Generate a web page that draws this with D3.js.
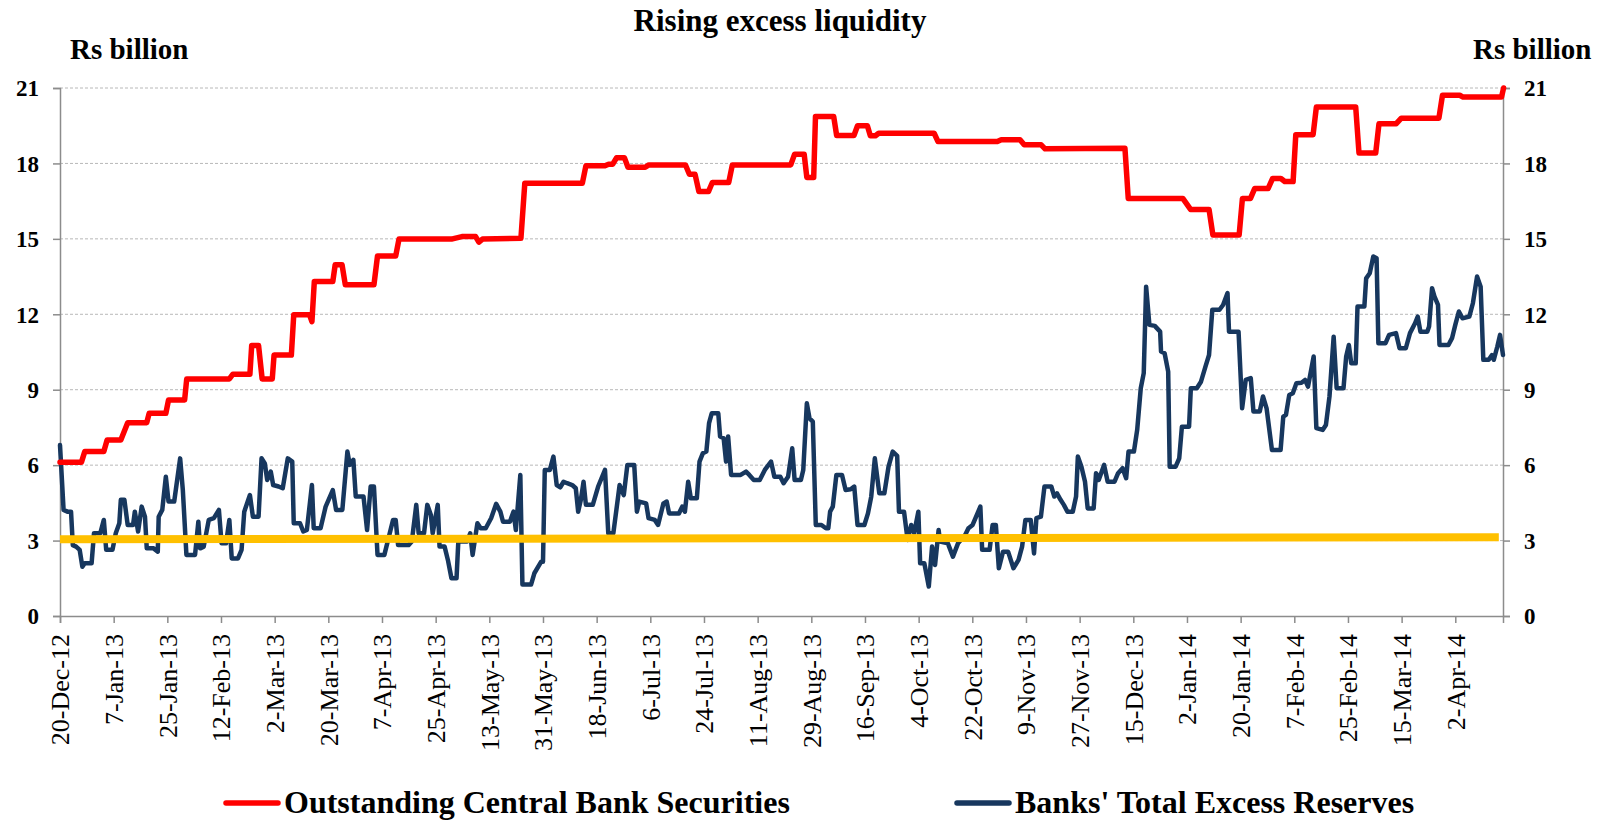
<!DOCTYPE html>
<html>
<head>
<meta charset="utf-8">
<script src="https://cdn.jsdelivr.net/npm/d3@7"></script>
<style>
  html, body { margin: 0; padding: 0; background: #fff; }
  svg { display: block; font-family: "Liberation Serif", "Times New Roman", serif; }
</style>
</head>
<body>
<svg id="chart" width="1599" height="820"></svg>
<script>
// ---------- data ----------
const startDate = "2012-12-20";
const tickLabels = ["20-Dec-12","7-Jan-13","25-Jan-13","12-Feb-13","2-Mar-13","20-Mar-13","7-Apr-13",
  "25-Apr-13","13-May-13","31-May-13","18-Jun-13","6-Jul-13","24-Jul-13","11-Aug-13","29-Aug-13",
  "16-Sep-13","4-Oct-13","22-Oct-13","9-Nov-13","27-Nov-13","15-Dec-13","2-Jan-14","20-Jan-14",
  "7-Feb-14","25-Feb-14","15-Mar-14","2-Apr-14"];
const yTicks = [0, 3, 6, 9, 12, 15, 18, 21];

// Outstanding Central Bank Securities (days since 20-Dec-12, Rs billion)
const secDays = [0,7.2,8.3,14.7,15.8,20.4,22.7,29.1,29.9,35.5,36.4,41.8,42.5,56.8,58,63.7,64.3,66.6,67.8,71.2,
  71.8,77.6,78.4,83.7,84.5,85.3,91.5,92.3,94.6,95.7,105.3,106.5,112.6,113.7,131.3,134.8,139.4,140.5,141.7,154.6,
  155.9,175.2,176.4,182.8,184,185.4,186.7,189.3,190.5,196.3,197.5,209.8,211.1,213,214.3,217.5,218.8,224.3,225.5,245.1,
  246.4,249.6,250.5,252.8,253.4,259.5,260.5,266.3,267.5,270.8,271.8,273.5,274.6,293.2,294.5,314.4,315.7,322,323.4,329.1,
  330.4,357.2,358.3,376.6,379.2,385.4,386.7,395.5,396.6,399.3,400.7,405.2,406.7,409.5,410.8,413.6,414.5,420.3,421.4,434.6,
  435.7,441.3,442.4,448.2,449.9,462.5,463.7,469.5,470.6,483.5,484.2];
const secValues = [6.12,6.12,6.54,6.54,7.0,7.0,7.69,7.69,8.06,8.06,8.59,8.59,9.43,9.43,9.62,9.62,10.76,10.76,9.43,9.43,
  10.38,10.38,11.98,11.98,11.71,13.3,13.3,13.97,13.97,13.17,13.17,14.32,14.32,14.99,14.99,15.09,15.09,14.87,14.99,15.02,
  17.21,17.21,17.91,17.91,17.97,17.97,18.23,18.23,17.85,17.85,17.94,17.94,17.57,17.57,16.88,16.88,17.24,17.24,17.94,17.94,
  18.37,18.37,17.44,17.44,19.87,19.87,19.11,19.11,19.5,19.5,19.1,19.1,19.2,19.2,18.87,18.87,18.94,18.94,18.74,18.74,
  18.58,18.6,16.61,16.61,16.17,16.17,15.15,15.15,16.61,16.61,17.0,17.0,17.4,17.4,17.28,17.28,19.14,19.14,20.24,20.24,
  18.41,18.41,19.58,19.58,19.8,19.8,20.71,20.71,20.64,20.64,21.0];

// Banks' Total Excess Reserves (days since 20-Dec-12, Rs billion)
const resDays = [0,1.2,2.5,3.7,4.3,5.4,6.6,7.5,8.3,10.6,11.4,13.5,14.7,15.5,17.6,18.7,19.9,20.4,21.6,22.7,
  24.5,25.1,26.2,27.4,28.5,29.1,31.4,32.8,33.1,34.3,35.5,36.4,38.3,40.3,41.2,42.4,45.3,46.4,47,48.2,
  49.9,51.6,53.3,54.2,55.7,56.8,57.6,59.7,60.9,61.8,63.7,64.7,66.6,67.6,68.7,69.5,70.7,71.5,73.3,74.7,
  76.4,77.9,78.4,80.5,81.6,82.8,84.5,85.1,87.4,89.1,91.5,92.6,94.7,96.4,97.2,98.4,99.2,101.8,103,104.2,
  105.3,106.5,108.8,111.7,112.6,113.4,116.9,118,119.5,120.3,122.1,123.2,124.4,125,126.7,127.3,129,130.1,131.3,133,
  133.6,136.5,137.6,138.4,140,141.1,142.8,144.6,146.3,147.7,148.6,150.9,152.1,152.9,154.4,155.1,158,159.1,161.4,162,
  162.6,164.3,165.5,166.6,167.8,168.9,170.1,171.8,173,173.8,174.7,175.6,176.4,178.7,180.5,182.8,183.9,185.6,187.7,189.1,
  190.3,192.6,193.5,194.3,196.6,197.4,199.5,200.6,202.4,203.5,204.3,207.6,208.7,209.6,210.7,211.6,213.6,214.5,215.6,216.8,
  217.7,218.6,220.8,221.4,222.6,223.4,224.1,225.1,228.3,230.1,231.2,232.7,234.7,236.4,238.5,239.6,241.6,242.7,244.2,245.6,
  246.4,248.5,249.3,250.5,251.4,252.5,253.5,255.4,256.9,257.7,258.3,259.2,260.4,262.3,263.5,265.2,266.4,267.5,269.8,271,
  272.1,273.3,274.8,276.5,277.9,279.3,280.8,281.4,283.1,284.3,285.5,286.5,287.9,288.5,289.9,291.4,292.5,293.5,294.7,295.2,
  297.8,299.5,301.2,303.6,304.7,306.1,308.7,309.3,311.8,312.8,313.9,314.9,316.3,318,319.8,321.5,322.7,323.8,325.6,326.7,
  327.5,329,330.2,332.5,333.5,334.4,335.6,336.7,337.9,339.7,340.8,341.4,342.6,343.8,344.7,346.7,347.5,348.4,350.2,351.4,
  353.7,354.9,356.4,357.6,358.4,360.2,361.3,362.5,363.5,364.3,365.4,367.2,369,369.3,370.5,371.7,372.2,374.2,375.4,376.3,
  378.7,379.3,381.3,382.7,384.2,385.4,386.5,388.9,390.1,391.6,392.1,395.3,396.5,397.7,399.4,400.3,402.4,403.5,404.7,406.5,
  409.4,410.3,411.2,412.3,413.5,414.7,416.4,417.6,418.6,420.5,421.4,423.5,424.6,425.8,427.2,428.2,430.5,431.4,432.3,433.1,
  434.6,435.2,437.5,438.1,439.3,440.5,441.6,442.2,444.6,445.8,448.1,449.3,451.4,452.8,454.5,455.4,456.3,458.6,459.2,460.2,
  461,462.2,462.7,465.7,466.9,468,469.2,470.4,472.7,473.9,475.3,476.5,477.4,479.2,480.3,480.9,482.1,483,484];
const resValues = [6.8,4.22,4.15,4.15,2.82,2.76,2.63,1.96,2.1,2.1,3.29,3.29,3.82,2.63,2.63,3.29,3.69,4.62,4.62,3.62,
  3.62,4.15,3.36,4.35,3.95,2.69,2.69,2.56,3.95,4.22,5.54,4.55,4.55,6.27,5.01,2.43,2.43,3.75,2.69,2.76,
  3.82,3.89,4.22,2.89,2.89,3.82,2.29,2.29,2.63,4.15,4.81,3.95,3.95,6.27,6.07,5.41,5.74,5.21,5.15,5.08,
  6.27,6.14,3.69,3.69,3.36,3.42,5.21,3.49,3.49,4.35,5.01,4.22,4.22,6.54,6.01,6.21,4.75,4.75,3.42,5.15,
  5.15,2.43,2.43,3.82,3.82,2.82,2.82,2.96,4.42,3.29,3.29,4.42,4.02,3.29,4.42,2.76,2.76,2.23,1.5,1.5,
  2.96,2.96,3.29,2.43,3.69,3.49,3.49,3.89,4.46,4.15,3.75,3.75,4.15,3.42,5.61,1.25,1.25,1.7,2.16,2.16,
  5.81,5.81,6.34,5.21,5.12,5.34,5.28,5.21,5.08,4.15,4.62,5.34,4.42,4.42,5.15,5.81,3.29,3.29,5.21,4.81,
  6.01,6.01,4.15,4.55,4.48,3.89,3.82,3.62,4.48,4.55,4.08,4.08,4.35,4.15,5.34,4.68,4.68,6.14,6.47,6.54,
  7.67,8.06,8.06,7.14,7.07,6.14,7.14,5.61,5.61,5.74,5.61,5.41,5.41,5.81,6.14,5.54,5.54,5.28,5.54,6.67,
  5.41,5.41,5.81,8.46,7.86,7.73,3.62,3.62,3.49,3.49,4.15,4.35,5.61,5.61,5.01,5.04,5.15,3.62,3.62,4.08,
  4.75,6.27,4.88,4.88,5.94,6.54,6.37,4.15,4.15,3.02,3.62,3.3,4.15,2.1,2.1,1.17,2.76,2.03,3.42,2.96,
  2.89,2.36,2.89,3.22,3.49,3.62,4.35,2.63,2.63,3.62,3.62,1.9,2.56,2.56,1.9,2.23,2.76,3.82,3.82,2.49,
  3.89,3.95,5.15,5.15,4.75,4.88,4.62,4.42,4.15,4.15,4.75,6.34,5.94,5.34,4.28,4.28,5.68,5.41,6.01,5.34,
  5.34,5.68,5.88,5.48,6.54,6.54,7.4,9.06,9.66,13.1,11.58,11.54,11.31,10.52,10.45,9.72,5.94,5.94,6.27,7.53,
  7.53,9.06,9.06,9.32,9.92,10.38,12.18,12.18,12.37,12.84,11.31,11.31,8.26,9.39,9.46,8.13,8.13,8.73,8.26,6.6,
  6.6,7.93,8.0,8.79,8.86,9.26,9.28,9.39,9.12,10.32,7.47,7.4,7.6,8.73,11.11,9.06,9.06,10.32,10.78,10.05,
  10.05,12.31,12.31,13.43,13.63,14.3,14.23,10.85,10.85,11.18,11.25,10.65,10.65,11.25,11.64,11.91,11.31,11.31,11.51,13.04,
  12.71,12.37,10.78,10.78,11.05,11.58,12.11,11.84,11.91,12.44,13.5,13.1,10.19,10.19,10.38,10.19,10.72,11.18,10.38];

// Reference level (yellow)
const refDays = [0, 482.6];
const refValues = [3.05, 3.13];

const seriesNames = ["Outstanding Central Bank Securities", "Banks' Total Excess Reserves"];

// ---------- chart ----------
const svg = d3.select("#chart");
const font = '"Liberation Serif", "Times New Roman", serif';
const parseISO = d3.utcParse("%Y-%m-%d");
const parseTick = d3.utcParse("%d-%b-%y");
const t0 = parseISO(startDate);
const toDate = d => new Date(t0.getTime() + d * 864e5);

const x = d3.scaleUtc().domain([t0, toDate(484)]).range([60, 1503]);
const y = d3.scaleLinear().domain([0, 21]).range([616, 88]);

const axisColor = "#8c8c8c";

// gridlines
svg.append("g").selectAll("line").data(yTicks.filter(v => v > 0)).join("line")
  .attr("x1", 60).attr("x2", 1503)
  .attr("y1", d => y(d)).attr("y2", d => y(d))
  .attr("stroke", "#b8b8b8").attr("stroke-width", 1).attr("stroke-dasharray", "3,2");

// left axis
const yLeft = d3.axisLeft(y).tickValues(yTicks).tickSize(7).tickPadding(14).tickFormat(d3.format("d"));
const gl = svg.append("g").attr("transform", "translate(60,0)").call(yLeft);
gl.select(".domain").attr("stroke", axisColor).attr("stroke-width", 1.5);
gl.selectAll(".tick line").attr("stroke", axisColor).attr("stroke-width", 1.5);
gl.selectAll(".tick text").attr("font-family", font).attr("font-size", 23).attr("font-weight", "bold")
  .attr("fill", "#000").attr("dy", "0.34em");

// right axis
const yRight = d3.axisRight(y).tickValues(yTicks).tickSize(7).tickPadding(14).tickFormat(d3.format("d"));
const gr = svg.append("g").attr("transform", "translate(1503,0)").call(yRight);
gr.select(".domain").attr("stroke", axisColor).attr("stroke-width", 1.5);
gr.selectAll(".tick line").attr("stroke", axisColor).attr("stroke-width", 1.5);
gr.selectAll(".tick text").attr("font-family", font).attr("font-size", 23).attr("font-weight", "bold")
  .attr("fill", "#000").attr("dy", "0.34em");

// bottom axis
const tickDates = tickLabels.map(parseTick);
const xAxis = d3.axisBottom(x).tickValues(tickDates).tickSize(7)
  .tickFormat((d, i) => tickLabels[i]);
const gb = svg.append("g").attr("transform", "translate(0,616)").call(xAxis);
gb.select(".domain").attr("stroke", axisColor).attr("stroke-width", 1.5);
gb.selectAll(".tick line").attr("stroke", axisColor).attr("stroke-width", 1.5);
gb.selectAll(".tick text")
  .attr("font-family", font).attr("font-size", 26).attr("fill", "#000")
  .attr("text-anchor", "end")
  .attr("transform", "translate(0,18) rotate(-90)")
  .attr("x", 0).attr("y", 0).attr("dx", 0).attr("dy", "0.34em");

// lines
const line = d3.line().x(d => x(toDate(d[0]))).y(d => y(d[1]));
const resData = resDays.map((d, i) => [d, resValues[i]]);
const secData = secDays.map((d, i) => [d, secValues[i]]);
const refData = refDays.map((d, i) => [d, refValues[i]]);

svg.append("path").datum(resData).attr("d", line)
  .attr("fill", "none").attr("stroke", "#17375E").attr("stroke-width", 4.5)
  .attr("stroke-linejoin", "round").attr("stroke-linecap", "round");
svg.append("path").datum(refData).attr("d", line)
  .attr("fill", "none").attr("stroke", "#FFC000").attr("stroke-width", 8);
svg.append("path").datum(secData).attr("d", line)
  .attr("fill", "none").attr("stroke", "#FF0000").attr("stroke-width", 5.5)
  .attr("stroke-linejoin", "round").attr("stroke-linecap", "round");

// title and axis units
svg.append("text").attr("x", 780).attr("y", 31).attr("text-anchor", "middle")
  .attr("font-family", font).attr("font-size", 31).attr("font-weight", "bold").text("Rising excess liquidity");
svg.append("text").attr("x", 70).attr("y", 59).attr("font-family", font).attr("font-size", 29)
  .attr("font-weight", "bold").text("Rs billion");
svg.append("text").attr("x", 1473).attr("y", 59).attr("font-family", font).attr("font-size", 29)
  .attr("font-weight", "bold").text("Rs billion");

// legend
const legend = [
  {name: seriesNames[0], color: "#FF0000", x1: 226, x2: 278, tx: 284},
  {name: seriesNames[1], color: "#17375E", x1: 957, x2: 1009, tx: 1015}
];
const lg = svg.append("g");
legend.forEach(l => {
  lg.append("line").attr("x1", l.x1).attr("x2", l.x2).attr("y1", 803).attr("y2", 803)
    .attr("stroke", l.color).attr("stroke-width", 5.5).attr("stroke-linecap", "round");
  lg.append("text").attr("x", l.tx).attr("y", 813).attr("font-family", font).attr("font-size", 32)
    .attr("font-weight", "bold").text(l.name);
});
</script>
</body>
</html>
